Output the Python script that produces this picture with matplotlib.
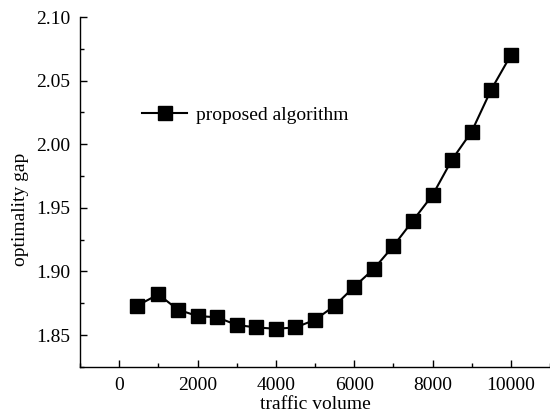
import matplotlib
matplotlib.use("Agg")
import matplotlib.pyplot as plt
from matplotlib.ticker import MultipleLocator

# data
traffic = [450, 1000, 1500, 2000, 2500, 3000, 3500, 4000, 4500, 5000,
           5500, 6000, 6500, 7000, 7500, 8000, 8500, 9000, 9500, 10000]
gap = [1.873, 1.882, 1.870, 1.865, 1.864, 1.858, 1.856, 1.855, 1.856, 1.862,
       1.873, 1.888, 1.902, 1.920, 1.940, 1.960, 1.988, 2.010, 2.043, 2.070]

plt.rcParams['font.family'] = ['Liberation Serif', 'DejaVu Serif']
plt.rcParams['font.size'] = 14

fig = plt.figure(figsize=(5.5, 4.16), dpi=100)
ax = fig.add_axes([0.1455, 0.118, 0.8545, 0.841])

ax.plot(traffic, gap, color='black', lw=1.5, marker='s', markersize=9.5,
        label='proposed algorithm')

ax.set_xlim(-1000, 11000)
ax.set_ylim(1.825, 2.10)
ax.xaxis.set_major_locator(MultipleLocator(2000))
ax.xaxis.set_minor_locator(MultipleLocator(1000))
ax.yaxis.set_major_locator(MultipleLocator(0.05))
ax.yaxis.set_minor_locator(MultipleLocator(0.025))
ax.yaxis.set_major_formatter(plt.FormatStrFormatter('%.2f'))
ax.tick_params(which='both', direction='in', width=1.0, top=False, right=False)
ax.tick_params(which='major', length=5, pad=7)
ax.tick_params(which='minor', length=3)
ax.spines['top'].set_visible(False)
ax.spines['right'].set_visible(False)
for s in ['left', 'bottom']:
    ax.spines[s].set_linewidth(1.0)

ax.set_xlabel('traffic volume', labelpad=2)
ax.set_ylabel('optimality gap')
ax.yaxis.set_label_coords(-0.108, 0.45)

ax.legend(loc='center left', bbox_to_anchor=(0.095, 0.72), frameon=False,
          handlelength=2.3, handletextpad=0.45, fontsize=14)

fig.savefig('out.png', dpi=100)
